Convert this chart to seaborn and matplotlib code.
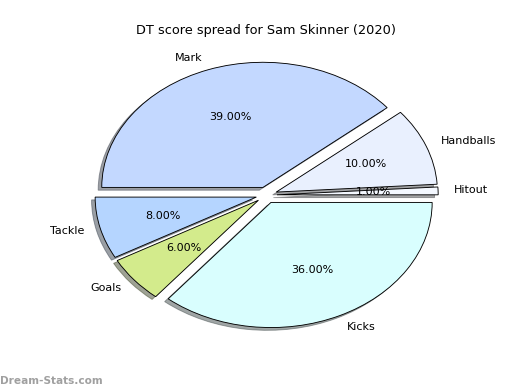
import matplotlib
matplotlib.use("Agg")
import matplotlib.pyplot as plt
import seaborn as sns

labels = ["Hitout", "Handballs", "Mark", "Tackle", "Goals", "Kicks"]
values = [1, 10, 39, 8, 6, 36]
colors = ["#f4f8ff", "#e9f0fe", "#c3d8ff", "#b5d5ff", "#d3eb8c", "#d9fefe"]
explode = [0.065] * 6

sns.set_style("white")
plt.rcParams['font.family'] = ['DejaVu Sans']
plt.rcParams['text.color'] = 'black'

fig = plt.figure(figsize=(6.5, 4.875), dpi=80)
ax = fig.add_subplot(111)
ax.pie(values, labels=labels, colors=colors, explode=explode,
       autopct='%1.2f%%', shadow=True, startangle=0,
       wedgeprops={'edgecolor': 'black', 'linewidth': 0.8},
       textprops={'fontsize': 10, 'color': 'black'})
ax.set_aspect('auto')
ax.set_xlim(-1.25, 1.25)
ax.set_ylim(-1.215, 1.185)
ax.set_title("DT score spread for Sam Skinner (2020)", fontsize=11.6,
             color='black', pad=11.5)
fig.text(0.0, 0.01, "Dream-Stats.com", fontsize=9.5, color="#a0a0a0",
         fontweight="bold", ha="left", va="bottom")
fig.savefig("out.png", dpi=80)
